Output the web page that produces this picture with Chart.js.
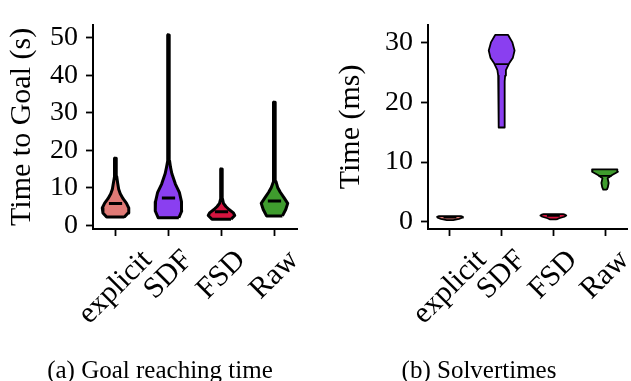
<!DOCTYPE html>
<html>
<head>
<meta charset="utf-8">
<script src="https://cdn.jsdelivr.net/npm/chart.js@4"></script>
<style>
  body { margin: 0; background: #fff; width: 631px; height: 381px; overflow: hidden; position: relative; }
  canvas { position: absolute; top: 0; }
  #goalChart { left: 0; }
  #solveChart { left: 315px; }
  .caption { position: absolute; top: 356px; font: 25px "Liberation Serif", serif; color: #000; white-space: nowrap; transform: translateX(-50%); }
</style>
</head>
<body>
<canvas id="goalChart" width="315" height="381"></canvas>
<canvas id="solveChart" width="316" height="381"></canvas>
<div class="caption" style="left:160px">(a) Goal reaching time</div>
<div class="caption" style="left:479px">(b) Solvertimes</div>
<script>
const categories = ['explicit', 'SDF', 'FSD', 'Raw'];
const violinColors = ['#e07a76', '#8a3ff0', '#d5143f', '#3f9c2e'];

// (a) goal reaching time: violin outline
// levels in seconds, widths as fraction of the widest point
const goalLevels = [
  [2.2, 3.3, 4.6, 5.9, 7.1, 8.4, 9.6, 11.3, 13.0, 16.3, 17.9],
  [2.0, 3.8, 6.3, 8.8, 11.0, 13.8, 15.5, 17.2, 20, 30, 40, 50.8],
  [1.6, 2.6, 3.3, 4.2, 5.0, 5.85, 7.1, 9, 12, 15.0],
  [2.5, 4.2, 5.85, 7.5, 8.8, 10.1, 11.7, 13.4, 20, 32.8]
];
const goalWidths = [
  [0.67, 0.95, 1.0, 0.82, 0.57, 0.36, 0.24, 0.16, 0.09, 0.06, 0.05],
  [0.78, 1.0, 0.98, 0.82, 0.52, 0.25, 0.15, 0.08, 0.06, 0.05, 0.05, 0.05],
  [0.72, 1.0, 0.9, 0.57, 0.33, 0.15, 0.07, 0.06, 0.05, 0.05],
  [0.6, 0.85, 1.0, 0.69, 0.44, 0.24, 0.11, 0.06, 0.05, 0.05]
];
const goalMedians = [5.8, 7.3, 3.6, 6.5];
const goalTicks = [0, 10, 20, 30, 40, 50];

// (b) solver times in ms
const solveLevels = [
  [0.3, 0.5, 0.7, 0.85, 0.95],
  [15.8, 18, 21, 23.5, 24.5, 25.4, 26.5, 27.5, 28.7, 30.1, 31.3],
  [0.4, 0.6, 0.85, 1.05, 1.2, 1.3],
  [5.4, 5.8, 6.5, 7.3, 7.85, 8.4, 8.8]
];
const solveWidths = [
  [0.25, 0.7, 0.95, 1.0, 0.85],
  [0.22, 0.22, 0.23, 0.25, 0.27, 0.33, 0.57, 0.87, 1.0, 0.82, 0.5],
  [0.25, 0.45, 0.85, 1.0, 0.9, 0.75],
  [0.14, 0.22, 0.28, 0.2, 0.55, 1.0, 0.95]
];
const solveMedians = [0.7, 26.4, 1.0, 7.7];
const solveTicks = [0, 10, 20, 30];

const FONT = '"Liberation Serif", serif';
const HALF = 0.25;      // half of the violin width in category units
const MED_HALF = 0.125; // half length of the median bar

function violinDatasets(levels, widths, medians, lineW) {
  const sets = [];
  levels.forEach((lv, i) => {
    const pts = [];
    lv.forEach((y, k) => pts.push({ x: i + widths[i][k] * HALF, y: y }));
    for (let k = lv.length - 1; k >= 0; k--) pts.push({ x: i - widths[i][k] * HALF, y: lv[k] });
    pts.push(pts[0]);
    sets.push({
      data: pts, showLine: true, fill: 'shape', tension: 0,
      backgroundColor: violinColors[i], borderColor: '#000', borderWidth: lineW,
      pointRadius: 0, order: 1, borderJoinStyle: 'round'
    });
  });
  medians.forEach((m, i) => {
    sets.push({
      data: [{ x: i - MED_HALF, y: m }, { x: i + MED_HALF, y: m }],
      showLine: true, fill: false, borderColor: '#000', borderWidth: lineW,
      pointRadius: 0, order: 0
    });
  });
  return sets;
}

// rotated category labels, centred under each tick like matplotlib's ha='center'
const rotatedLabels = {
  id: 'rotatedLabels',
  afterDraw(chart) {
    const xs = chart.scales.x;
    const ctx = chart.ctx;
    const size = 30;
    ctx.save();
    ctx.font = size + 'px ' + FONT;
    ctx.fillStyle = '#000';
    ctx.textAlign = 'right';
    ctx.textBaseline = 'top';
    categories.forEach((c, i) => {
      const w = ctx.measureText(c).width;
      const px = xs.getPixelForValue(i) + 0.354 * (w - size);
      const py = xs.top + 16;
      ctx.save();
      ctx.translate(px, py);
      ctx.rotate(-Math.PI / 4);
      ctx.fillText(c, 0, 0);
      ctx.restore();
    });
    ctx.restore();
  }
};

function makeChart(id, levels, widths, medians, ticks, yMin, yMax, title, axisW, titlePad, lineW, padRight) {
  return new Chart(document.getElementById(id), {
    type: 'scatter',
    data: { datasets: violinDatasets(levels, widths, medians, lineW) },
    options: {
      responsive: false,
      animation: false,
      layout: { padding: { top: 12, right: padRight, left: 0, bottom: 0 } },
      plugins: { legend: { display: false }, tooltip: { enabled: false } },
      scales: {
        x: {
          type: 'linear', min: -0.425, max: 3.425,
          afterBuildTicks: s => { s.ticks = [0, 1, 2, 3].map(v => ({ value: v })); },
          afterFit: s => { s.height = 381 - 229; },
          ticks: { display: false },
          grid: { drawOnChartArea: false, drawTicks: true, tickLength: 7, tickWidth: 1.8, color: '#000' },
          border: { display: true, color: '#000', width: 2 }
        },
        y: {
          min: yMin, max: yMax,
          afterBuildTicks: s => { s.ticks = ticks.map(v => ({ value: v })); },
          afterFit: s => { s.width = axisW; },
          ticks: { color: '#000', font: { family: FONT, size: 28 }, padding: 8 },
          grid: { drawOnChartArea: false, drawTicks: true, tickLength: 7, tickWidth: 1.8, color: '#000' },
          border: { display: true, color: '#000', width: 2 },
          title: { display: true, text: title, color: '#000', font: { family: FONT, size: 30 }, padding: { top: titlePad, bottom: 0 } }
        }
      }
    },
    plugins: [rotatedLabels]
  });
}

makeChart('goalChart', goalLevels, goalWidths, goalMedians, goalTicks, -1, 53.5, 'Time to Goal (s)', 93, 4, 3, 18);
makeChart('solveChart', solveLevels, solveWidths, solveMedians, solveTicks, -1.2, 33, 'Time (ms)', 113, 18, 1.8, 4);
</script>
</body>
</html>
